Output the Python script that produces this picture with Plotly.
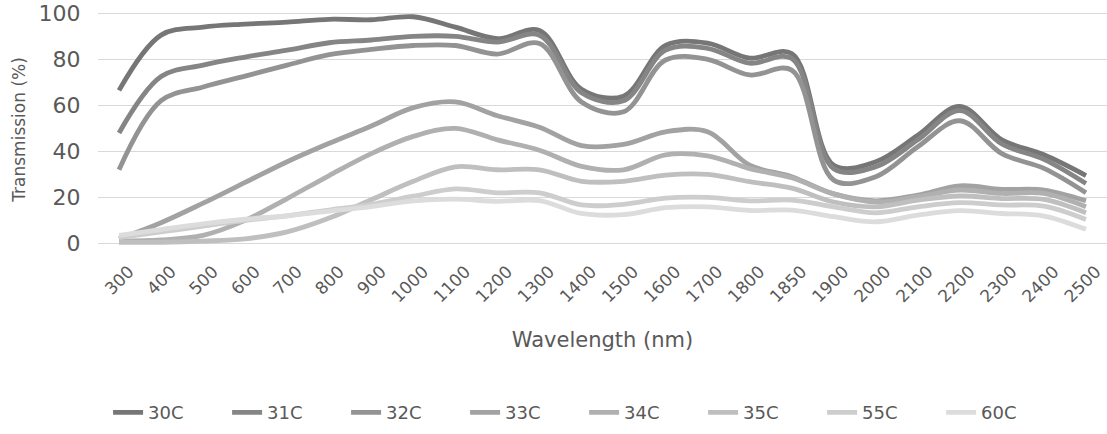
import plotly.graph_objects as go

wavelengths = ["300", "400", "500", "600", "700", "800", "900", "1000", "1100", "1200",
               "1300", "1400", "1500", "1600", "1700", "1800", "1850", "1900", "2000",
               "2100", "2200", "2300", "2400", "2500"]

t30 = [66.5, 90.5, 94.0, 95.3, 96.2, 97.4, 97.2, 98.5, 94.0, 89.0, 92.5, 67.0, 64.0,
       86.0, 87.0, 80.5, 82.5, 34.0, 35.5, 47.0, 59.5, 45.0, 38.5, 29.5]
t31 = [48.0, 72.5, 77.5, 81.0, 84.0, 87.2, 88.4, 90.0, 90.0, 87.5, 90.5, 65.5, 62.0,
       84.0, 84.8, 78.3, 80.4, 32.5, 33.3, 45.0, 57.7, 43.2, 36.5, 26.0]
t32 = [32.0, 62.0, 68.0, 72.7, 77.5, 82.0, 84.3, 86.0, 86.0, 82.3, 86.9, 61.5, 57.2,
       79.7, 80.0, 73.2, 75.3, 27.5, 29.0, 42.0, 53.3, 39.0, 32.6, 22.0]
t33 = [2.0, 9.0, 17.5, 26.5, 35.5, 43.5, 51.0, 59.0, 61.5, 55.5, 50.5, 42.5, 43.0,
       48.5, 48.5, 34.0, 29.0, 21.5, 18.5, 21.0, 25.0, 23.5, 23.2, 18.5]
t34 = [1.0, 1.5, 3.5, 10.0, 19.5, 29.5, 39.0, 46.5, 50.0, 45.0, 40.5, 33.5, 32.0,
       38.5, 38.0, 32.5, 28.5, 21.5, 18.0, 20.3, 23.2, 21.7, 21.7, 15.9]
t35 = [0.5, 0.5, 1.0, 2.0, 5.0, 11.0, 19.0, 27.0, 33.3, 32.0, 32.0, 27.0, 27.0,
       29.7, 30.0, 26.8, 24.0, 18.0, 15.9, 18.8, 20.6, 19.5, 19.1, 13.3]
t55 = [2.5, 5.0, 7.5, 10.0, 12.0, 14.5, 17.0, 20.5, 23.7, 22.0, 22.0, 16.7, 17.0,
       19.7, 20.0, 18.5, 18.8, 15.9, 13.3, 15.9, 17.7, 16.7, 16.2, 10.4]
t60 = [3.5, 6.0, 8.5, 10.5, 12.0, 14.0, 16.0, 18.5, 19.2, 18.3, 18.6, 13.0, 12.5,
       15.5, 15.9, 14.3, 14.5, 11.6, 9.4, 12.3, 14.2, 13.0, 11.9, 6.1]

series_names = ["30C", "31C", "32C", "33C", "34C", "35C", "55C", "60C"]
series_values = [t30, t31, t32, t33, t34, t35, t55, t60]
series_colors = ["#767676", "#858585", "#939393", "#a2a2a2", "#b0b0b0", "#bfbfbf",
                 "#cdcdcd", "#dcdcdc"]

y_ticks = [0, 20, 40, 60, 80, 100]

FONT = "DejaVu Sans"
TEXT = "#595959"

fig = go.Figure()
for name, vals, col in zip(series_names, series_values, series_colors):
    fig.add_trace(go.Scatter(
        x=wavelengths, y=vals, name=name, mode="lines",
        line=dict(color=col, width=4.8, shape="spline", smoothing=1.0),
    ))

fig.update_layout(
    width=1107, height=434,
    margin=dict(l=98, r=0, t=11, b=186, pad=0, autoexpand=False),
    paper_bgcolor="white", plot_bgcolor="white",
    font=dict(family=FONT, color=TEXT),
    showlegend=True,
    legend=dict(
        orientation="h", x=0.010, xanchor="left", y=-0.773, yanchor="bottom",
        font=dict(family=FONT, size=18, color=TEXT),
        entrywidth=74, entrywidthmode="pixels",
        bgcolor="rgba(0,0,0,0)", traceorder="normal",
    ),
    xaxis=dict(
        type="category", categoryorder="array", categoryarray=wavelengths,
        range=[-0.5, len(wavelengths) - 0.5], automargin=False,
        showgrid=False, zeroline=False, showline=False,
        ticks="outside", ticklen=6, tickcolor="rgba(0,0,0,0)",
        tickangle=-45, tickfont=dict(family=FONT, size=17, color=TEXT),
        ticklabelshift=10, ticklabeloverflow="allow",
        title=dict(text="Wavelength (nm)", font=dict(family=FONT, size=21, color=TEXT),
                   standoff=26),
    ),
    yaxis=dict(
        range=[-2, 101], tickvals=y_ticks, ticktext=[str(v) for v in y_ticks],
        automargin=False,
        showgrid=True, gridcolor="#d9d9d9", gridwidth=1, zeroline=False, showline=False,
        ticks="outside", ticklen=12, tickcolor="rgba(0,0,0,0)",
        tickfont=dict(family=FONT, size=22, color=TEXT),
        ticklabeloverflow="allow",
        title=dict(text="Transmission (%)", font=dict(family=FONT, size=17, color=TEXT),
                   standoff=8),
    ),
)

# remove the browser's default page margin so the figure fills the window exactly
fig.write_html("out.html",
               config={"displayModeBar": False},
               post_script="document.body.style.margin='0';document.body.style.padding='0';")
